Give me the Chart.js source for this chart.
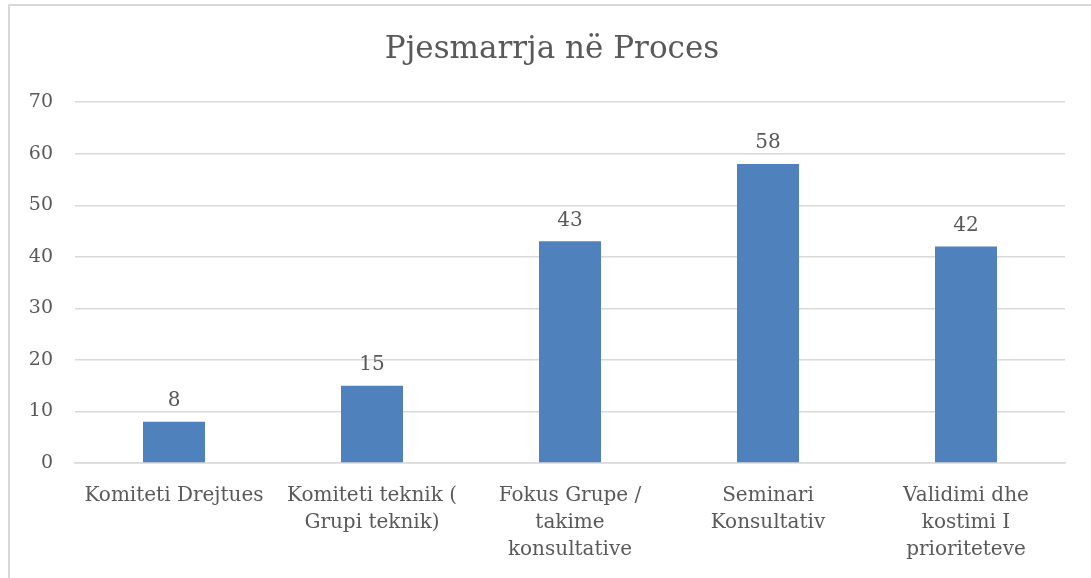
<!DOCTYPE html>
<html>
<head>
<meta charset="utf-8">
<script src="https://cdn.jsdelivr.net/npm/chart.js@4"></script>
<style>
  html, body { margin: 0; padding: 0; background: #fff; }
  #frame { position: absolute; left: 8px; top: 4px; width: 1100px; height: 600px;
           border-left: 2px solid #d9d9d9; border-top: 2px solid #d9d9d9; }
  #wrap { position: absolute; left: 0; top: 0; width: 1091px; height: 578px; }
</style>
</head>
<body>
<div id="frame"></div>
<div id="wrap"><canvas id="grafico"></canvas></div>
<script>
const titulo = "Pjesmarrja në Proces";
const categorias = [
    ["Komiteti Drejtues"],
    ["Komiteti teknik (", "Grupi teknik)"],
    ["Fokus Grupe /", "takime", "konsultative"],
    ["Seminari", "Konsultativ"],
    ["Validimi dhe", "kostimi I", "prioriteteve"]
];
const valores = [8, 15, 43, 58, 42];
const ejeY = { min: 0, max: 70, paso: 10 };

const fuente = "'DejaVu Serif', serif";
const colorTexto = "#595959";

const etiquetasValor = {
    id: "etiquetasValor",
    afterDatasetsDraw(chart) {
        const ctx = chart.ctx;
        const meta = chart.getDatasetMeta(0);
        ctx.save();
        ctx.font = "20px " + fuente;
        ctx.fillStyle = colorTexto;
        ctx.textAlign = "center";
        ctx.textBaseline = "bottom";
        meta.data.forEach((bar, i) => {
            ctx.fillText(valores[i], bar.x, bar.y - 11);
        });
        ctx.restore();
    }
};

document.addEventListener("DOMContentLoaded", () => {
    new Chart(document.getElementById("grafico"), {
        type: "bar",
        data: {
            labels: categorias,
            datasets: [{
                data: valores,
                backgroundColor: "#4f81bd",
                categoryPercentage: 1,
                barPercentage: 0.313
            }]
        },
        options: {
            responsive: true,
            maintainAspectRatio: false,
            animation: false,
            // padding derecho negativo + eje vacio a la derecha: centra el titulo como en el original
            layout: { padding: { left: 0, right: -13, top: 0, bottom: 0 } },
            plugins: {
                legend: { display: false },
                tooltip: { enabled: false },
                title: {
                    display: true,
                    text: titulo,
                    color: colorTexto,
                    font: { family: fuente, size: 31, weight: "normal", lineHeight: 1.2 },
                    padding: { top: 31, bottom: 34 }
                }
            },
            scales: {
                x: {
                    grid: { display: false, drawTicks: false },
                    border: { display: true, color: "#d9d9d9", width: 1.5 },
                    ticks: {
                        color: colorTexto,
                        font: { family: fuente, size: 20, lineHeight: 1.35 },
                        padding: 19,
                        maxRotation: 0,
                        autoSkip: false
                    },
                    afterFit: s => { s.height = 115; }
                },
                y: {
                    min: ejeY.min,
                    max: ejeY.max,
                    grid: { color: "#d9d9d9", lineWidth: 1.5, drawTicks: false },
                    border: { display: false },
                    ticks: {
                        stepSize: ejeY.paso,
                        color: colorTexto,
                        font: { family: fuente, size: 19 },
                        padding: 22
                    },
                    afterFit: s => { s.width = 75; }
                },
                vacio: {
                    type: "linear",
                    position: "right",
                    display: true,
                    grid: { display: false, drawTicks: false },
                    border: { display: false },
                    ticks: { display: false },
                    afterFit: s => { s.width = 39; }
                }
            }
        },
        plugins: [etiquetasValor]
    });
});
</script>
</body>
</html>
